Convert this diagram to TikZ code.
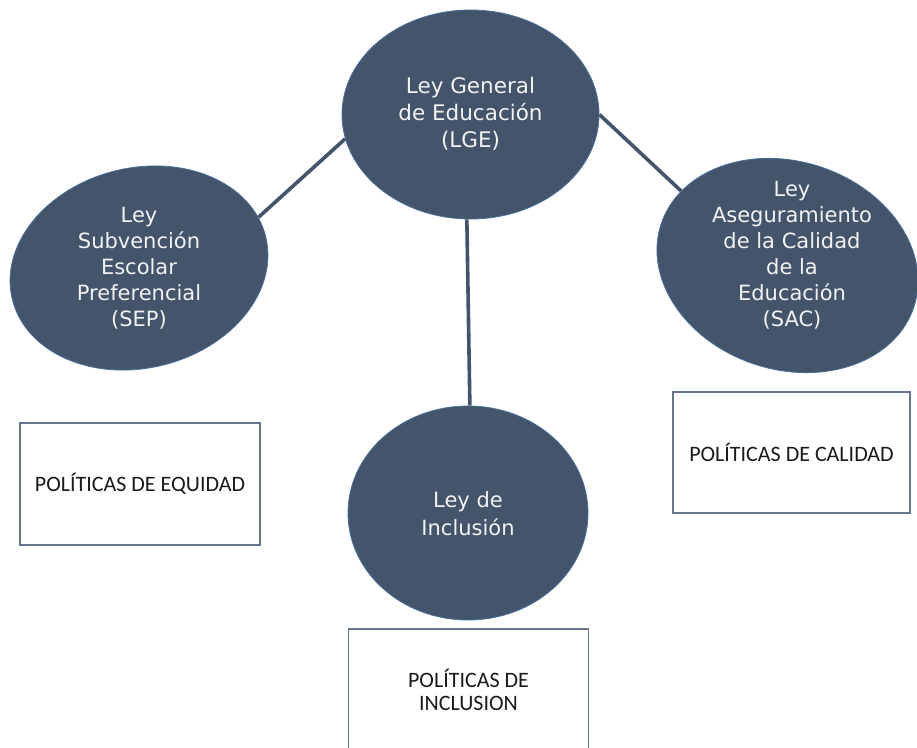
\documentclass[tikz,border=0pt]{standalone}
\usepackage{fontspec}
\setmainfont{Carlito}
\newfontfamily\ellfont{DejaVu Sans}
\usetikzlibrary{shapes.geometric,backgrounds}
\definecolor{slate}{HTML}{44546A}
\definecolor{rim}{HTML}{4A6E9A}
\definecolor{boxline}{HTML}{66778C}
\definecolor{ltxt}{HTML}{F2F2F2}
\definecolor{btxt}{HTML}{1A1A1A}
\begin{document}
\begin{tikzpicture}[x=1pt,y=-1pt,
  ell/.style={ellipse, fill=slate, draw=rim, line width=0.8pt, inner sep=0pt},
  etext/.style={text=ltxt, font=\ellfont\fontsize{21}{26}\selectfont, align=center, inner sep=0pt},
  pbox/.style={rectangle, draw=boxline, line width=1.3pt, fill=white, minimum width=240pt, minimum height=122pt, align=center, font=\fontsize{22}{23}\selectfont, text=btxt},
  link/.style={draw=slate, line width=3.6pt}]
\useasboundingbox (0,0) rectangle (917,747);
\clip (0,0) rectangle (917,747);

% ellipses
\node[ell, minimum width=257pt, minimum height=209pt] (lge) at (470.5,114.5) {};
\node[etext, font=\ellfont\fontsize{21.5}{27}\selectfont] (lgetext) at (470.5,114) {Ley General\\de Educación\\(LGE)};

\node[ell, rotate=14, minimum width=261pt, minimum height=200pt] (sep) at (139,268) {};
\node[etext] (septext) at (139,268) {Ley\\Subvención\\Escolar\\Preferencial\\(SEP)};

\node[ell, rotate=-18, minimum width=266pt, minimum height=208pt] (sac) at (787.5,265.5) {};
\node[etext] (sactext) at (792,255) {Ley\\Aseguramiento\\de la Calidad\\de la\\Educación\\(SAC)};

\node[ell, minimum width=240pt, minimum height=214pt] (inc) at (468,513) {};
\node[etext, font=\ellfont\fontsize{21}{28}\selectfont] (inctext) at (468,514) {Ley de\\Inclusión};

% boxes
\node[pbox] (equ) at (140,484) {POLÍTICAS DE EQUIDAD};
\node[pbox, minimum width=237pt, minimum height=121pt] (cal) at (791.5,452.5) {POLÍTICAS DE CALIDAD};
\node[pbox] (incl) at (468.5,690) {POLÍTICAS DE\\INCLUSION};

% connectors (behind the ellipses)
\begin{scope}[on background layer]
\fill[white] (0,0) rectangle (917,747);
\draw[link] (lge.191) -- (sep.9);
\draw[link] (lge.east) -- (sac.163);
\draw[link] (lge.268) -- (inc.89);
\end{scope}
\end{tikzpicture}
\end{document}
